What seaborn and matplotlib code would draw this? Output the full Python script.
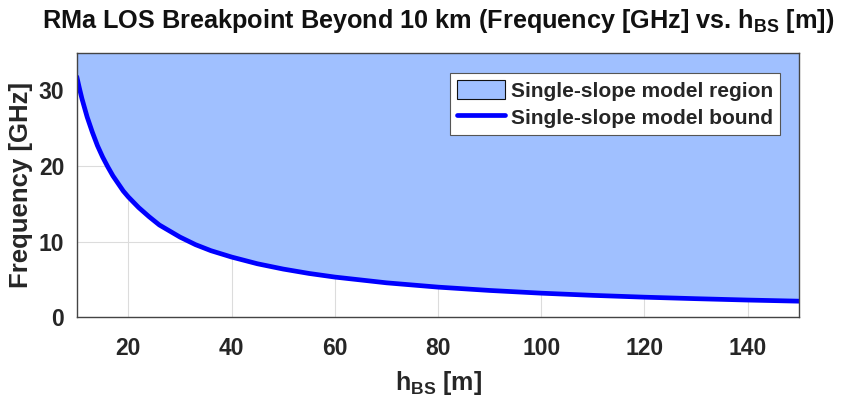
import numpy as np
import pandas as pd
import matplotlib
matplotlib.use("Agg")
import matplotlib.pyplot as plt
import seaborn as sns
from matplotlib.patches import Patch
from matplotlib.lines import Line2D

# Base-station height [m] and the frequency [GHz] at which the LOS breakpoint sits at 10 km
h_bs = [10, 10.5, 11, 11.5, 12, 12.5, 13, 14, 15, 16, 17, 18, 19, 20, 22, 24, 26, 28, 30,
        33, 36, 40, 45, 50, 55, 60, 70, 80, 90, 100, 110, 120, 130, 140, 150]
freq_ghz = [31.8, 30.3, 28.9, 27.7, 26.5, 25.5, 24.5, 22.7, 21.2, 19.9, 18.7, 17.7, 16.7,
            15.9, 14.5, 13.3, 12.2, 11.4, 10.6, 9.6, 8.8, 7.96, 7.07, 6.37, 5.79, 5.31,
            4.55, 3.98, 3.54, 3.18, 2.89, 2.65, 2.45, 2.27, 2.12]
x_ticks = [20, 40, 60, 80, 100, 120, 140]
y_ticks = [0, 10, 20, 30]

df = pd.DataFrame({"h_bs": h_bs, "freq": freq_ghz})

sns.set_theme(style="white")
plt.rcParams["font.family"] = ["Liberation Sans", "DejaVu Sans"]
plt.rcParams["font.weight"] = "bold"
plt.rcParams["mathtext.fontset"] = "custom"
plt.rcParams["mathtext.rm"] = "Liberation Sans:bold"
plt.rcParams["mathtext.it"] = "Liberation Sans:bold"
plt.rcParams["mathtext.bf"] = "Liberation Sans:bold"
plt.rcParams["mathtext.default"] = "rm"

fig = plt.figure(figsize=(8.44, 3.99), dpi=100)
ax = fig.add_axes([0.091, 0.205, 0.856, 0.663])

fill_color = "#a0c0ff"
ymax = 35
ax.fill_between(df["h_bs"], df["freq"], ymax, color=fill_color, linewidth=0, zorder=1)
sns.lineplot(data=df, x="h_bs", y="freq", ax=ax, color="#0000ff", linewidth=3.4,
             zorder=3, legend=False)

ax.set_xlim(10, 150)
ax.set_ylim(0, ymax)
ax.set_xticks(x_ticks)
ax.set_yticks(y_ticks)
ax.grid(True, color="#dcdcdc", linewidth=0.8, zorder=0)
ax.set_axisbelow(True)
ax.tick_params(axis="both", direction="in", length=5, width=0.8, color="#333333",
               labelsize=16.5, labelcolor="#262626")
ax.tick_params(axis="x", pad=14)
ax.tick_params(axis="y", pad=9)
for lab in ax.get_xticklabels() + ax.get_yticklabels():
    lab.set_fontweight("bold")
for sp in ax.spines.values():
    sp.set_color("#444444")
    sp.set_linewidth(1.0)
    sp.set_zorder(4)

ax.set_xlabel(r"h$_{\mathrm{BS}}$ [m]", fontsize=18, fontweight="bold", color="#262626", labelpad=7)
ax.set_ylabel("Frequency [GHz]", fontsize=18.5, fontweight="bold", color="#262626", labelpad=4)
ax.set_title(r"RMa LOS Breakpoint Beyond 10 km (Frequency [GHz] vs. h$_{\mathrm{BS}}$ [m])",
             fontsize=18.2, fontweight="bold", color="#111111", pad=18)

handles = [Patch(facecolor=fill_color, edgecolor="#111111", linewidth=0.8),
           Line2D([0], [0], color="#0000ff", linewidth=3.4)]
leg = ax.legend(handles, ["Single-slope model region", "Single-slope model bound"],
                loc="upper right", bbox_to_anchor=(0.974, 0.924), fontsize=15,
                frameon=True, fancybox=False, framealpha=1, edgecolor="#555555",
                borderpad=0.35, labelspacing=0.3, handlelength=2.3, handleheight=1.05,
                handletextpad=0.3, borderaxespad=0)
leg.get_frame().set_linewidth(0.8)
for t in leg.get_texts():
    t.set_fontweight("bold")
leg.set_zorder(5)

fig.savefig("out.png", dpi=100)
